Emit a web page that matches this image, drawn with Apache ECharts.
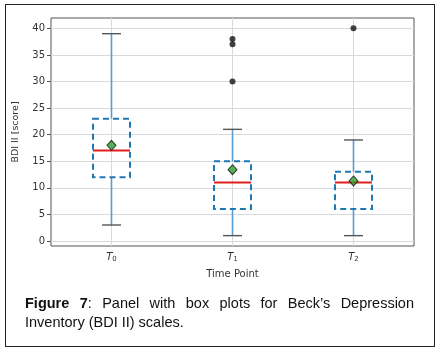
<!DOCTYPE html>
<html>
<head>
<meta charset="utf-8">
<script src="https://cdn.jsdelivr.net/npm/echarts@6/dist/echarts.min.js"></script>
<style>
  html, body { margin: 0; padding: 0; background: #fff; }
  #wrap { position: relative; width: 441px; height: 354px; }
  #frame { position: absolute; left: 5px; top: 4px; width: 428px; height: 341px; border: 1.5px solid #222; }
  #chart { position: absolute; left: 0; top: 0; width: 441px; height: 354px; }
  #caption {
    position: absolute; left: 25px; top: 294px; width: 389px;
    font-family: "Liberation Sans", sans-serif; font-size: 14.5px; line-height: 19px;
    color: #111;
  }
  #caption .l1 { text-align: justify; text-align-last: justify; white-space: nowrap; }
</style>
</head>
<body>
<div id="wrap">
  <div id="frame"></div>
  <div id="chart"></div>
  <div id="caption">
    <div class="l1"><b>Figure 7</b>: Panel with box plots for Beck’s Depression</div>
    <div>Inventory (BDI II) scales.</div>
  </div>
</div>
<script>
// 数据
const categories = ["0", "1", "2"];          // T 的下标
const whiskerLow = [3, 1, 1];
const q1 = [12, 6, 6];
const median = [17, 11, 11];
const q3 = [23, 15, 13];
const whiskerHigh = [39, 21, 19];
const means = [18, 13.4, 11.3];
const outliers = [[1, 30], [1, 37], [1, 38], [2, 40]];
const yTicks = [0, 5, 10, 15, 20, 25, 30, 35, 40];

const chart = echarts.init(document.getElementById("chart"));

const boxData = categories.map((c, i) => [i, whiskerLow[i], q1[i], median[i], q3[i], whiskerHigh[i]]);

// 画箱线图
function renderBox(params, api) {
  const i = api.value(0);
  const x = api.coord([i, 0])[0];
  const band = api.size([1, 0])[0];
  const half = band * 0.153;
  const capHalf = band * 0.078;
  const yLow = api.coord([i, api.value(1)])[1];
  const yQ1 = api.coord([i, api.value(2)])[1];
  const yMed = api.coord([i, api.value(3)])[1];
  const yQ3 = api.coord([i, api.value(4)])[1];
  const yHigh = api.coord([i, api.value(5)])[1];
  const cs = params.coordSys;
  const whisk = { stroke: "#5b9bd5", lineWidth: 1.6 };
  const cap = { stroke: "#555", lineWidth: 1.4 };
  return {
    type: "group",
    children: [
      // 竖网格线
      { type: "line", shape: { x1: x, y1: cs.y, x2: x, y2: cs.y + cs.height }, style: { stroke: "#d9d9d9", lineWidth: 1 } },
      { type: "line", shape: { x1: x, y1: yQ1, x2: x, y2: yLow }, style: whisk },
      { type: "line", shape: { x1: x, y1: yQ3, x2: x, y2: yHigh }, style: whisk },
      { type: "line", shape: { x1: x - capHalf, y1: yLow, x2: x + capHalf, y2: yLow }, style: cap },
      { type: "line", shape: { x1: x - capHalf, y1: yHigh, x2: x + capHalf, y2: yHigh }, style: cap },
      {
        type: "rect",
        shape: { x: x - half, y: yQ3, width: half * 2, height: yQ1 - yQ3 },
        style: { fill: "none", stroke: "#1f77b4", lineWidth: 2, lineDash: [6, 4] }
      },
      { type: "line", shape: { x1: x - half, y1: yMed, x2: x + half, y2: yMed }, style: { stroke: "#e0201c", lineWidth: 2 } }
    ]
  };
}

const option = {
  animation: false,
  grid: {
    left: 51, top: 18, width: 363, height: 228,
    show: true, borderColor: "#555", borderWidth: 1, backgroundColor: "transparent"
  },
  xAxis: {
    type: "category",
    data: categories,
    boundaryGap: true,
    name: "Time Point",
    nameLocation: "middle",
    nameGap: 23,
    nameTextStyle: { fontFamily: "DejaVu Sans", fontSize: 10, color: "#333" },
    axisLine: { show: false },
    axisTick: { show: true, alignWithLabel: true, length: 4, lineStyle: { color: "#555" } },
    splitLine: { show: false },
    axisLabel: {
      margin: 5,
      formatter: v => "{t|T}{s|" + v + "}",
      rich: {
        t: { fontFamily: "DejaVu Sans", fontStyle: "italic", fontSize: 10, color: "#333" },
        s: { fontFamily: "DejaVu Sans", fontSize: 7, color: "#333", padding: [5, 0, 0, 0] }
      }
    }
  },
  yAxis: {
    type: "value",
    min: -0.95,
    max: 41.95,
    name: "BDI II [score]",
    nameLocation: "middle",
    nameRotate: 90,
    nameGap: 30,
    nameTextStyle: { fontFamily: "DejaVu Sans", fontSize: 9.5, color: "#333" },
    axisLine: { show: false },
    axisTick: { show: true, length: 4, customValues: yTicks, lineStyle: { color: "#555" } },
    axisLabel: { customValues: yTicks, fontFamily: "DejaVu Sans", fontSize: 10, color: "#333", margin: 6 },
    splitLine: { show: true, lineStyle: { color: "#d9d9d9", width: 1.2 } }
  },
  series: [
    { type: "custom", renderItem: renderBox, data: boxData, z: 2 },
    {
      type: "scatter",
      data: means.map((m, i) => [i, m]),
      symbol: "diamond",
      symbolSize: [9, 10],
      itemStyle: { color: "#2ca02c", borderColor: "#111", borderWidth: 1 },
      z: 4
    },
    {
      type: "scatter",
      data: outliers,
      symbol: "circle",
      symbolSize: 6,
      itemStyle: { color: "#111" },
      z: 4
    }
  ]
};

chart.setOption(option);
</script>
</body>
</html>
